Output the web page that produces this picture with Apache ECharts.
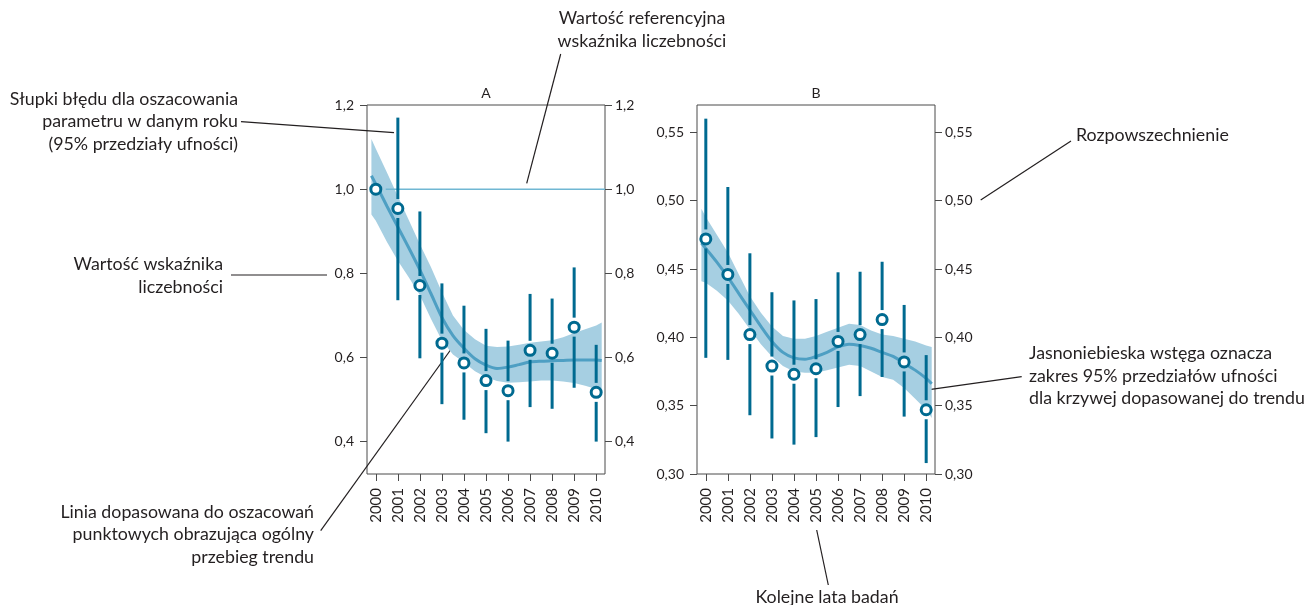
<!DOCTYPE html>
<html>
<head>
<meta charset="utf-8">
<script src="https://cdn.jsdelivr.net/npm/echarts@6/dist/echarts.min.js"></script>
<style>
html,body{margin:0;padding:0;background:#fff;}
#chart{width:1311px;height:605px;}
</style>
</head>
<body>
<div id="chart"></div>
<script>
// ---------- DATA ----------
const years = [2000, 2001, 2002, 2003, 2004, 2005, 2006, 2007, 2008, 2009, 2010];

// Panel A: abundance index
const estA = [1.000, 0.954, 0.771, 0.634, 0.587, 0.545, 0.521, 0.617, 0.610, 0.672, 0.517];
const loA  = [null, 0.736, 0.598, 0.489, 0.452, 0.420, 0.400, 0.482, 0.478, 0.528, 0.400];
const hiA  = [null, 1.170, 0.947, 0.776, 0.723, 0.668, 0.640, 0.751, 0.740, 0.814, 0.630];
const refA = 1.0;

// Panel B: prevalence
const estB = [0.472, 0.446, 0.402, 0.379, 0.373, 0.377, 0.397, 0.402, 0.413, 0.382, 0.347];
const loB  = [0.385, 0.3835, 0.343, 0.326, 0.3215, 0.327, 0.349, 0.357, 0.371, 0.342, 0.308];
const hiB  = [0.560, 0.510, 0.4615, 0.433, 0.427, 0.428, 0.4476, 0.448, 0.4553, 0.4237, 0.387];

// Fitted trend and its 95% band
const trendX = [1999.8, 2000, 2000.5, 2001, 2001.5, 2002, 2002.5, 2003, 2003.5, 2004, 2004.5, 2005,
                2005.5, 2006, 2006.5, 2007, 2007.5, 2008, 2008.5, 2009, 2009.5, 2010, 2010.25];
const trendA = [1.032, 1.012, 0.960, 0.910, 0.860, 0.808, 0.752, 0.695, 0.652, 0.622, 0.597, 0.582,
                0.574, 0.577, 0.583, 0.589, 0.591, 0.592, 0.593, 0.594, 0.594, 0.594, 0.593];
const bandHiA = [1.119, 1.096, 1.040, 0.983, 0.926, 0.869, 0.815, 0.755, 0.700, 0.665, 0.643, 0.628,
                 0.625, 0.626, 0.630, 0.635, 0.638, 0.641, 0.648, 0.658, 0.667, 0.676, 0.683];
const bandLoA = [0.940, 0.925, 0.875, 0.830, 0.790, 0.748, 0.692, 0.640, 0.607, 0.588, 0.567, 0.553,
                 0.544, 0.540, 0.541, 0.543, 0.545, 0.545, 0.543, 0.539, 0.533, 0.525, 0.518];
const trendB = [0.469, 0.465, 0.455, 0.444, 0.432, 0.420, 0.408, 0.397, 0.389, 0.385, 0.384, 0.386,
                0.389, 0.393, 0.395, 0.394, 0.392, 0.389, 0.386, 0.381, 0.376, 0.370, 0.366];
const bandHiB = [0.494, 0.488, 0.475, 0.462, 0.446, 0.430, 0.418, 0.408, 0.401, 0.399, 0.399, 0.401,
                 0.404, 0.407, 0.410, 0.409, 0.405, 0.402, 0.401, 0.399, 0.397, 0.394, 0.393];
const bandLoB = [0.441, 0.440, 0.434, 0.427, 0.417, 0.406, 0.395, 0.386, 0.379, 0.375, 0.374, 0.374,
                 0.376, 0.378, 0.380, 0.379, 0.375, 0.371, 0.369, 0.363, 0.355, 0.347, 0.341];

// Axis ticks
const ticksA = [0.4, 0.6, 0.8, 1.0, 1.2];
const ticksB = [0.30, 0.35, 0.40, 0.45, 0.50, 0.55];

// ---------- STYLE ----------
const BAR = '#006a90';
const BAND = '#a6cfe2';
const TREND = '#4e9fc3';
const REF = '#70b7d3';
const AXIS = '#4a4a4a';
const TXT = '#231f20';
const FONT = 'Lato, "Liberation Sans", sans-serif';
const ANN = '17.8px ' + FONT;

const chart = echarts.init(document.getElementById('chart'), null, {renderer: 'canvas'});

function bandRender(xs, lo, hi) {
  return function (params, api) {
    if (params.dataIndex !== 0) return null;
    const pts = [];
    for (let i = 0; i < xs.length; i++) pts.push(api.coord([xs[i], hi[i]]));
    for (let i = xs.length - 1; i >= 0; i--) pts.push(api.coord([xs[i], lo[i]]));
    return {type: 'polygon', shape: {points: pts}, style: {fill: BAND}};
  };
}

function errRender(params, api) {
  const x = api.value(0), lo = api.value(1), hi = api.value(2), est = api.value(3);
  const pLo = api.coord([x, lo]), pHi = api.coord([x, hi]), pE = api.coord([x, est]);
  const gap = 9.5;
  const style = {stroke: BAR, lineWidth: 3, fill: null};
  const ch = [];
  if (pHi[1] < pE[1] - gap) ch.push({type: 'line', shape: {x1: pE[0], y1: pHi[1], x2: pE[0], y2: pE[1] - gap}, style});
  if (pLo[1] > pE[1] + gap) ch.push({type: 'line', shape: {x1: pE[0], y1: pE[1] + gap, x2: pE[0], y2: pLo[1]}, style});
  return {type: 'group', children: ch};
}

function errData(est, lo, hi) {
  const out = [];
  years.forEach((y, i) => { if (lo[i] != null && hi[i] != null) out.push([y, lo[i], hi[i], est[i]]); });
  return out;
}

const gridBase = {top: 105, height: 369, width: 238, show: true, borderColor: AXIS, borderWidth: 1, backgroundColor: 'transparent'};

function xAxisFor(gi) {
  return {
    type: 'value', gridIndex: gi, min: 1999.6, max: 2010.4,
    axisLine: {show: false}, splitLine: {show: false},
    axisTick: {show: true, length: 7, lineStyle: {color: AXIS}, customValues: years},
    axisLabel: {show: true, customValues: years, rotate: 90, margin: 14, color: TXT, fontSize: 15, fontFamily: FONT,
                formatter: v => String(Math.round(v))}
  };
}
function yAxisFor(gi, min, max, ticks, dec, pos) {
  return {
    type: 'value', gridIndex: gi, min, max, position: pos,
    axisLine: {show: false}, splitLine: {show: false},
    axisTick: {show: true, length: 7, lineStyle: {color: AXIS}, customValues: ticks},
    axisLabel: {show: true, customValues: ticks, margin: pos === 'left' ? 13 : 10, color: TXT, fontSize: 14, fontFamily: FONT,
                formatter: v => v.toFixed(dec).replace('.', ',')}
  };
}

const pts = (xs, ys) => xs.map((x, i) => [x, ys[i]]);

const option = {
  animation: false,
  backgroundColor: '#fff',
  grid: [Object.assign({left: 367}, gridBase), Object.assign({left: 697}, gridBase)],
  xAxis: [xAxisFor(0), xAxisFor(1)],
  yAxis: [
    yAxisFor(0, 0.323, 1.2, ticksA, 1, 'left'),
    yAxisFor(0, 0.323, 1.2, ticksA, 1, 'right'),
    yAxisFor(1, 0.30, 0.57, ticksB, 2, 'left'),
    yAxisFor(1, 0.30, 0.57, ticksB, 2, 'right')
  ],
  series: [
    // Panel A
    {type: 'custom', xAxisIndex: 0, yAxisIndex: 0, renderItem: bandRender(trendX, bandLoA, bandHiA),
     data: trendX.map((x, i) => [x, bandLoA[i], bandHiA[i]]), encode: {x: 0, y: [1, 2]}, z: 1, silent: true},
    {type: 'line', xAxisIndex: 0, yAxisIndex: 0, data: [[2000.45, refA], [2010.4, refA]], showSymbol: false,
     lineStyle: {color: REF, width: 1.5}, z: 2, silent: true},
    {type: 'line', xAxisIndex: 0, yAxisIndex: 0, data: pts(trendX, trendA), smooth: 0.3, showSymbol: false,
     lineStyle: {color: TREND, width: 3}, z: 3, silent: true},
    {type: 'custom', xAxisIndex: 0, yAxisIndex: 0, renderItem: errRender, data: errData(estA, loA, hiA),
     encode: {x: 0, y: [1, 2]}, z: 4, silent: true},
    {type: 'scatter', xAxisIndex: 0, yAxisIndex: 0, data: pts(years, estA), symbol: 'circle', symbolSize: 10,
     itemStyle: {color: '#fff', borderColor: BAR, borderWidth: 3, opacity: 1}, z: 5, silent: true},
    // Panel B
    {type: 'custom', xAxisIndex: 1, yAxisIndex: 2, renderItem: bandRender(trendX, bandLoB, bandHiB),
     data: trendX.map((x, i) => [x, bandLoB[i], bandHiB[i]]), encode: {x: 0, y: [1, 2]}, z: 1, silent: true},
    {type: 'line', xAxisIndex: 1, yAxisIndex: 2, data: pts(trendX, trendB), smooth: 0.3, showSymbol: false,
     lineStyle: {color: TREND, width: 3}, z: 3, silent: true},
    {type: 'custom', xAxisIndex: 1, yAxisIndex: 2, renderItem: errRender, data: errData(estB, loB, hiB),
     encode: {x: 0, y: [1, 2]}, z: 4, silent: true},
    {type: 'scatter', xAxisIndex: 1, yAxisIndex: 2, data: pts(years, estB), symbol: 'circle', symbolSize: 10,
     itemStyle: {color: '#fff', borderColor: BAR, borderWidth: 3, opacity: 1}, z: 5, silent: true}
  ],
  graphic: [
    // Panel titles
    {type: 'text', x: 486, y: 93, style: {text: 'A', align: 'center', verticalAlign: 'middle', font: '14px ' + FONT, fill: TXT}},
    {type: 'text', x: 816, y: 93, style: {text: 'B', align: 'center', verticalAlign: 'middle', font: '14px ' + FONT, fill: TXT}},
    // Annotation texts
    {type: 'text', x: 238, y: 121.5, style: {text: 'Słupki błędu dla oszacowania\nparametru w danym roku\n(95% przedziały ufności)',
      align: 'right', verticalAlign: 'middle', lineHeight: 22.5, font: ANN, fill: TXT}},
    {type: 'text', x: 223, y: 276, style: {text: 'Wartość wskaźnika\nliczebności',
      align: 'right', verticalAlign: 'middle', lineHeight: 22.5, font: ANN, fill: TXT}},
    {type: 'text', x: 314, y: 534.5, style: {text: 'Linia dopasowana do oszacowań\npunktowych obrazująca ogólny\nprzebieg trendu',
      align: 'right', verticalAlign: 'middle', lineHeight: 22.5, font: ANN, fill: TXT}},
    {type: 'text', x: 642, y: 30, style: {text: 'Wartość referencyjna\nwskaźnika liczebności',
      align: 'center', verticalAlign: 'middle', lineHeight: 22.5, font: ANN, fill: TXT}},
    {type: 'text', x: 1076, y: 135, style: {text: 'Rozpowszechnienie',
      align: 'left', verticalAlign: 'middle', font: ANN, fill: TXT}},
    {type: 'text', x: 1029, y: 376, style: {text: 'Jasnoniebieska wstęga oznacza\nzakres 95% przedziałów ufności\ndla krzywej dopasowanej do trendu',
      align: 'left', verticalAlign: 'middle', lineHeight: 22.5, font: ANN, fill: TXT}},
    {type: 'text', x: 827, y: 597, style: {text: 'Kolejne lata badań',
      align: 'center', verticalAlign: 'middle', font: ANN, fill: TXT}},
    // Leader lines
    {type: 'line', shape: {x1: 241, y1: 121.7, x2: 394, y2: 132.7}, style: {stroke: TXT, lineWidth: 1.2}},
    {type: 'line', shape: {x1: 231, y1: 275, x2: 327, y2: 275}, style: {stroke: TXT, lineWidth: 1.2}},
    {type: 'line', shape: {x1: 320.7, y1: 530.7, x2: 457.7, y2: 340}, style: {stroke: TXT, lineWidth: 1.2}},
    {type: 'line', shape: {x1: 560.7, y1: 54, x2: 526.7, y2: 183.3}, style: {stroke: TXT, lineWidth: 1.2}},
    {type: 'line', shape: {x1: 1071, y1: 141, x2: 980.7, y2: 200}, style: {stroke: TXT, lineWidth: 1.2}},
    {type: 'line', shape: {x1: 1021.7, y1: 376.7, x2: 915, y2: 391.7}, style: {stroke: TXT, lineWidth: 1.2}},
    {type: 'line', shape: {x1: 816.7, y1: 530, x2: 828.3, y2: 585}, style: {stroke: TXT, lineWidth: 1.2}}
  ]
};

chart.setOption(option);
</script>
</body>
</html>
